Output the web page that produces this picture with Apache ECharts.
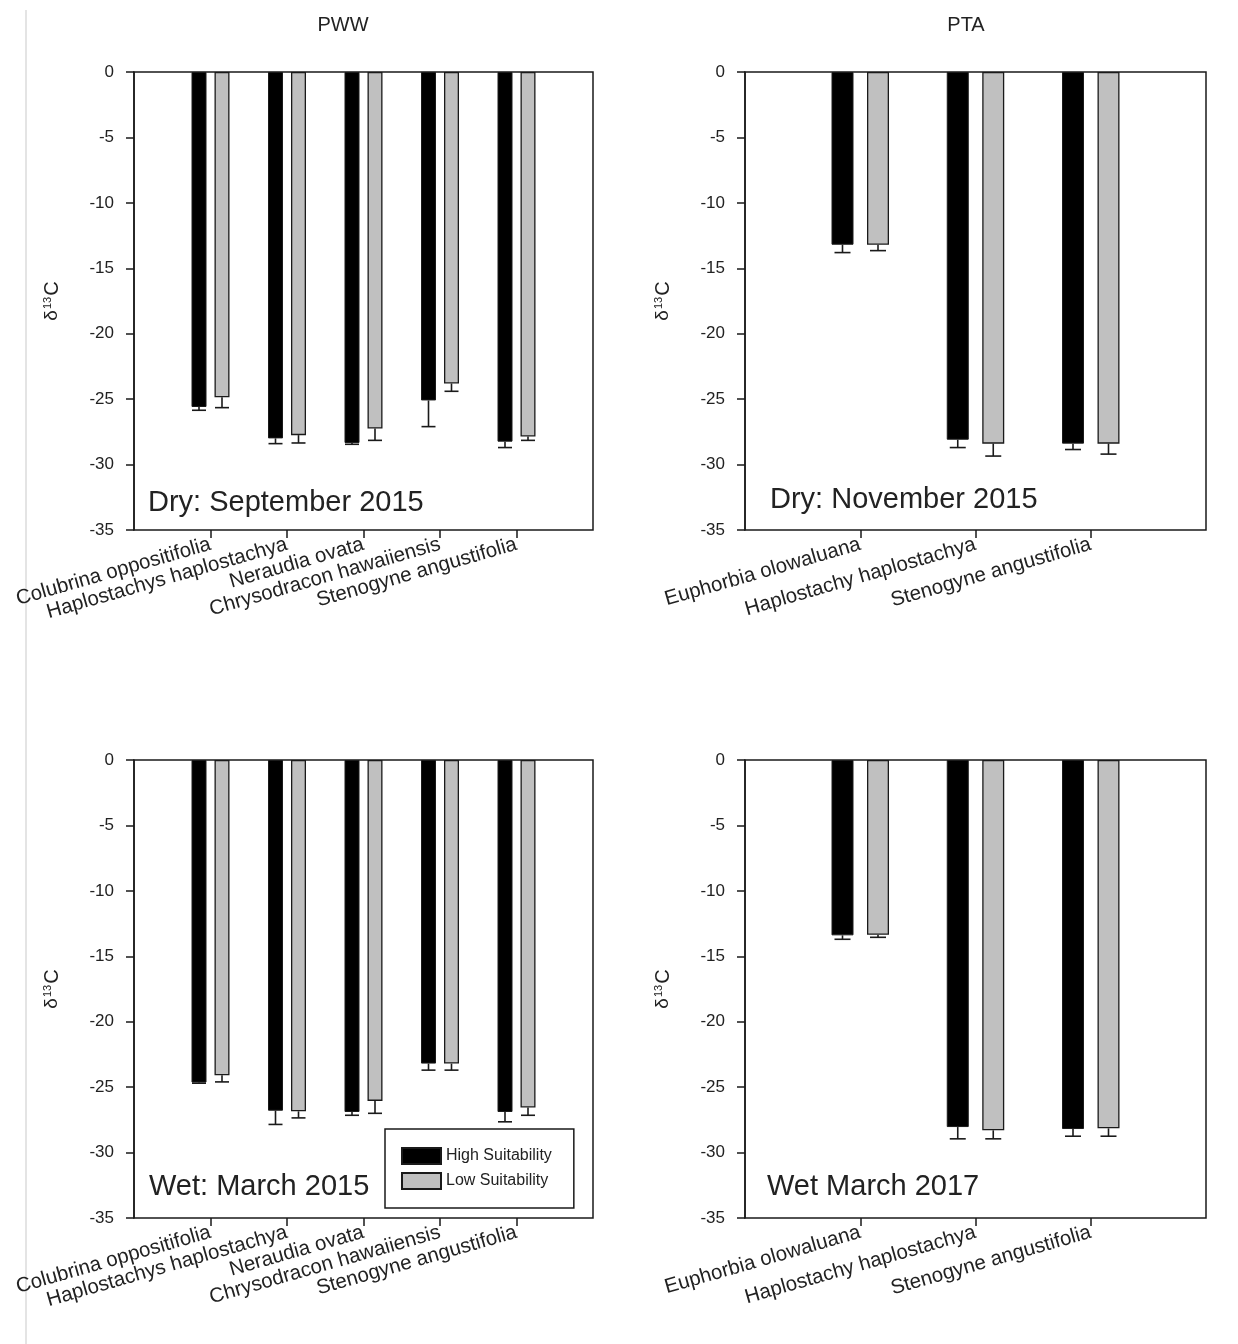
<!DOCTYPE html>
<html>
<head>
<meta charset="utf-8">
<script src="https://cdn.jsdelivr.net/npm/echarts@6/dist/echarts.min.js"></script>
<style>html,body{margin:0;padding:0;background:#fff;}#c{width:1238px;height:1344px;}</style>
</head>
<body>
<div id="c"></div>
<script>
// ---------- DATA ----------
const pwwSpecies = ['Colubrina oppositifolia', 'Haplostachys haplostachya', 'Neraudia ovata', 'Chrysodracon hawaiiensis', 'Stenogyne angustifolia'];
const ptaSpecies = ['Euphorbia olowaluana', 'Haplostachy haplostachya', 'Stenogyne angustifolia'];
const yTicks = [0, -5, -10, -15, -20, -25, -30, -35];

// Dry: September 2015 (PWW)
const pwwDryHigh    = [-25.6, -28.0, -28.35, -25.1, -28.25];
const pwwDryHighErr = [0.25, 0.4, 0.1, 2.0, 0.45];
const pwwDryLow     = [-24.85, -27.75, -27.25, -23.8, -27.85];
const pwwDryLowErr  = [0.8, 0.6, 0.9, 0.6, 0.3];

// Dry: November 2015 (PTA)
const ptaDryHigh    = [-13.2, -28.1, -28.4];
const ptaDryHighErr = [0.6, 0.6, 0.45];
const ptaDryLow     = [-13.2, -28.4, -28.4];
const ptaDryLowErr  = [0.45, 0.95, 0.8];

// Wet: March 2015 (PWW)
const pwwWetHigh    = [-24.65, -26.8, -26.9, -23.2, -26.9];
const pwwWetHighErr = [0.05, 1.05, 0.25, 0.5, 0.75];
const pwwWetLow     = [-24.1, -26.85, -26.05, -23.2, -26.55];
const pwwWetLowErr  = [0.5, 0.5, 0.95, 0.5, 0.6];

// Wet March 2017 (PTA)
const ptaWetHigh    = [-13.4, -28.05, -28.2];
const ptaWetHighErr = [0.3, 0.9, 0.55];
const ptaWetLow     = [-13.35, -28.3, -28.15];
const ptaWetLowErr  = [0.2, 0.65, 0.6];

const seriesNames = ['High Suitability', 'Low Suitability'];
const panelTitles = ['PWW', 'PTA'];
const panelNotes = ['Dry: September 2015', 'Dry: November 2015', 'Wet: March 2015', 'Wet March 2017'];

// ---------- LAYOUT / STYLE ----------
const FONT = '"Liberation Sans", Arial, Helvetica, sans-serif';
const INK = '#1a1a1a';
const GRAY = '#c0c0c0';

const panels = [
  { x0: 134, x1: 593, y0: 72, y1: 530, cats: pwwSpecies, high: pwwDryHigh, highErr: pwwDryHighErr, low: pwwDryLow, lowErr: pwwDryLowErr, bw: 15, gap: 8, cap: 14, note: panelNotes[0], nx: 148, ny: 503 },
  { x0: 745, x1: 1206, y0: 72, y1: 530, cats: ptaSpecies, high: ptaDryHigh, highErr: ptaDryHighErr, low: ptaDryLow, lowErr: ptaDryLowErr, bw: 22, gap: 13.5, cap: 16, note: panelNotes[1], nx: 770, ny: 500 },
  { x0: 134, x1: 593, y0: 760, y1: 1218, cats: pwwSpecies, high: pwwWetHigh, highErr: pwwWetHighErr, low: pwwWetLow, lowErr: pwwWetLowErr, bw: 15, gap: 8, cap: 14, note: panelNotes[2], nx: 149, ny: 1187 },
  { x0: 745, x1: 1206, y0: 760, y1: 1218, cats: ptaSpecies, high: ptaWetHigh, highErr: ptaWetHighErr, low: ptaWetLow, lowErr: ptaWetLowErr, bw: 22, gap: 13.5, cap: 16, note: panelNotes[3], nx: 767, ny: 1187 }
];

const grid = [], xAxis = [], yAxis = [], series = [], graphic = [];

function errSeries(ax, vals, errs, side, bw, gap, cap) {
  return {
    type: 'custom', xAxisIndex: ax, yAxisIndex: ax, silent: true,
    data: vals.map((v, i) => [i, v, errs[i]]),
    encode: { x: 0, y: 1 },
    renderItem: function (params, api) {
      const i = api.value(0), v = api.value(1), e = api.value(2);
      const p0 = api.coord([i, v]);
      const p1 = api.coord([i, v - e]);
      const x = p0[0] + side * (bw + gap) / 2;
      const st = { stroke: INK, lineWidth: 1.6 };
      return { type: 'group', children: [
        { type: 'line', shape: { x1: x, y1: p0[1], x2: x, y2: p1[1] }, style: st },
        { type: 'line', shape: { x1: x - cap / 2, y1: p1[1], x2: x + cap / 2, y2: p1[1] }, style: st }
      ]};
    }
  };
}

panels.forEach((p, k) => {
  const W = p.x1 - p.x0, H = p.y1 - p.y0, n = p.cats.length;
  const step = W / (n + 1);
  // frame grid (index 2k)
  grid.push({ left: p.x0, top: p.y0, width: W, height: H, show: true, borderColor: INK, borderWidth: 1.5, backgroundColor: 'transparent' });
  // data grid (index 2k+1)
  grid.push({ left: p.x0 + step / 2, top: p.y0, width: n * step, height: H });
  const fi = 2 * k, di = 2 * k + 1;
  xAxis.push({ gridIndex: fi, type: 'value', min: 0, max: 1, show: false });
  yAxis.push({
    gridIndex: fi, type: 'value', min: -35, max: 0, interval: 5,
    axisLine: { show: true, lineStyle: { color: INK, width: 1.5 } },
    axisTick: { show: true, length: 8, lineStyle: { color: INK, width: 1.5 } },
    axisLabel: { fontSize: 17, color: '#222', fontFamily: FONT, margin: 20,
      customValues: yTicks },
    splitLine: { show: false },
    name: '{d|δ}{s|13}{c|C}', nameLocation: 'middle', nameRotate: 90, nameGap: 72,
    nameTextStyle: { fontFamily: FONT, color: '#222',
      rich: { d: { fontSize: 19, fontFamily: FONT, color: '#222' },
              s: { fontSize: 11, fontFamily: FONT, color: '#222', verticalAlign: 'top', padding: [0, 1, 8, 1] },
              c: { fontSize: 20, fontFamily: FONT, color: '#222' } } }
  });
  xAxis.push({
    gridIndex: di, type: 'category', data: p.cats, position: 'bottom',
    axisLine: { show: false, onZero: false },
    axisTick: { show: true, alignWithLabel: true, length: 8, lineStyle: { color: INK, width: 1.5 } },
    axisLabel: { rotate: 16, fontSize: 20.5, color: '#222', fontFamily: FONT, margin: 14, interval: 0 },
    splitLine: { show: false }
  });
  yAxis.push({ gridIndex: di, type: 'value', min: -35, max: 0, show: false });

  const ax = xAxis.length - 1; // data axis index (same for x and y)
  series.push({
    name: seriesNames[0], type: 'bar', xAxisIndex: ax, yAxisIndex: ax,
    data: p.high, barWidth: p.bw, barGap: (p.gap / p.bw * 100) + '%',
    itemStyle: { color: '#000', borderColor: INK, borderWidth: 1 }
  });
  series.push({
    name: seriesNames[1], type: 'bar', xAxisIndex: ax, yAxisIndex: ax,
    data: p.low, barWidth: p.bw, barGap: (p.gap / p.bw * 100) + '%',
    itemStyle: { color: GRAY, borderColor: INK, borderWidth: 1.3 }
  });
  series.push(errSeries(ax, p.high, p.highErr, -1, p.bw, p.gap, p.cap));
  series.push(errSeries(ax, p.low, p.lowErr, 1, p.bw, p.gap, p.cap));

  graphic.push({ type: 'text', x: p.nx, y: p.ny, style: { text: p.note, fill: '#222', font: '29px ' + FONT, textAlign: 'left', textVerticalAlign: 'middle' } });
});

graphic.push({ type: 'text', x: 343, y: 25, style: { text: panelTitles[0], fill: '#222', font: '20px ' + FONT, textAlign: 'center', textVerticalAlign: 'middle' } });
graphic.push({ type: 'text', x: 966, y: 25, style: { text: panelTitles[1], fill: '#222', font: '20px ' + FONT, textAlign: 'center', textVerticalAlign: 'middle' } });
graphic.push({ type: 'line', shape: { x1: 26, y1: 10, x2: 26, y2: 1344 }, style: { stroke: '#e4e4e4', lineWidth: 2 } });

const chart = echarts.init(document.getElementById('c'), null, { renderer: 'canvas' });
chart.setOption({
  animation: false,
  backgroundColor: '#fff',
  textStyle: { fontFamily: FONT },
  grid, xAxis, yAxis, series, graphic,
  legend: {
    data: seriesNames, orient: 'vertical', left: 385, top: 1129,
    padding: [18, 22, 18, 16], itemWidth: 39, itemHeight: 16, itemGap: 7,
    borderColor: INK, borderWidth: 1.5, backgroundColor: '#fff',
    icon: 'rect',
    textStyle: { fontSize: 16, color: '#222', fontFamily: FONT }
  }
});
</script>
</body>
</html>
